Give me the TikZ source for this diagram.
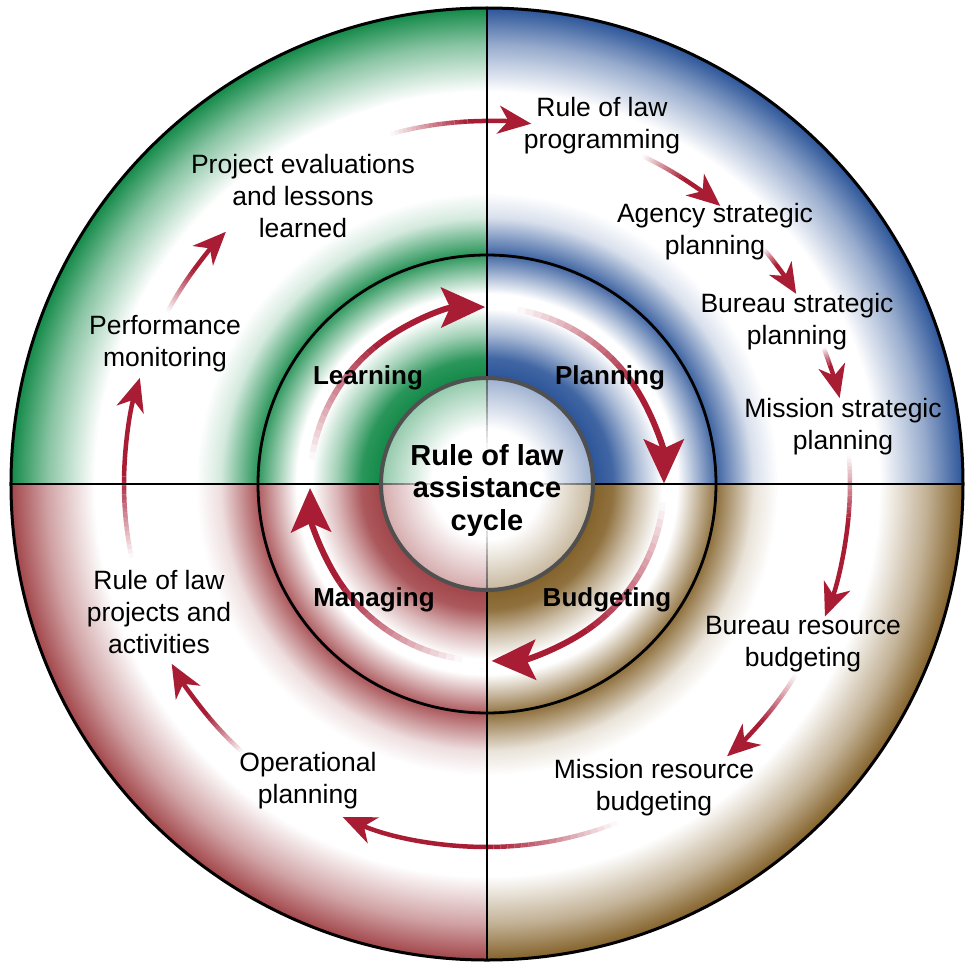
\documentclass[tikz,border=0pt]{standalone}
\usepackage{fontspec}
\setmainfont{Liberation Sans}
\usetikzlibrary{arrows.meta}
\definecolor{cgreen}{HTML}{138A48}
\definecolor{cblue}{HTML}{2C5599}
\definecolor{cred}{HTML}{A2464A}
\definecolor{ctan}{HTML}{84622A}
\definecolor{arrowred}{HTML}{A81C34}
\definecolor{discgrey}{HTML}{505050}

\newcommand{\declring}[2]{%
  \pgfdeclareradialshading{#1}{\pgfpoint{0bp}{0bp}}{%
    color(0bp)=(white); color(2.9bp)=(white); color(5.51bp)=(#2!45);
    color(5.6bp)=(#2); color(6.6bp)=(#2!90); color(7.9bp)=(#2!40);
    color(9.2bp)=(white); color(10bp)=(white); color(12.03bp)=(#2!88);
    color(12.13bp)=(#2!88); color(14.0bp)=(#2!18); color(15.3bp)=(white);
    color(20.6bp)=(white); color(23.1bp)=(#2!50); color(25bp)=(#2);
    color(50bp)=(#2)}}
\declring{ringgreen}{cgreen}
\declring{ringblue}{cblue}
\declring{ringred}{cred}
\declring{ringtan}{ctan}

% #1 name, #2 radius, #3 start angle, #4 end angle, #5 fade fraction, #6 width, #7 tip
\newcommand{\fadearrow}[7]{%
  \pgfmathsetmacro{\fmid}{#3+(#4-#3)*#5}%
  \coordinate (#1-s) at (#3:#2);
  \coordinate (#1-m) at (\fmid:#2);
  \foreach \k in {0,...,17}{%
    \pgfmathsetmacro{\aa}{#3+(\fmid-#3)*\k/18}%
    \pgfmathsetmacro{\ab}{#3+(\fmid-#3)*(\k+1)/18}%
    \pgfmathsetmacro{\op}{(\k+0.5)/18}%
    \draw[arrowred, line width=#6, opacity=\op] (\aa:#2) arc[start angle=\aa, end angle=\ab, radius=#2];
  }
  \draw[arrowred, line width=#6, -{#7}] (#1-m) arc[start angle=\fmid, end angle=#4, radius=#2];
}

\tikzset{
  lbl/.style={align=center, text=black, inner sep=0pt, font=\fontsize{26.5}{32}\selectfont},
  blbl/.style={align=center, text=black, inner sep=0pt, font=\fontsize{26}{32}\selectfont\bfseries},
  clbl/.style={align=center, text=black, inner sep=0pt, font=\fontsize{29}{32.5}\selectfont\bfseries},
}

\begin{document}
\begin{tikzpicture}[x=1pt, y=1pt]
\useasboundingbox (-487,-478) rectangle (485,484);
\fill[white] (-487,-478) rectangle (485,484);

% quadrant shadings
\begin{scope}
  \clip (0,0) rectangle (-480,480);
  \shade[shading=ringgreen] (0,0) circle (476);
\end{scope}
\begin{scope}
  \clip (0,0) rectangle (480,480);
  \shade[shading=ringblue] (0,0) circle (476);
\end{scope}
\begin{scope}
  \clip (0,0) rectangle (-480,-480);
  \shade[shading=ringred] (0,0) circle (476);
\end{scope}
\begin{scope}
  \clip (0,0) rectangle (480,-480);
  \shade[shading=ringtan] (0,0) circle (476);
\end{scope}

% faint cross inside the central disc
\foreach \ang in {0,90,180,270}{
  \foreach \k in {0,...,11}{
    \pgfmathsetmacro{\ra}{35+\k*6}
    \pgfmathsetmacro{\rb}{\ra+6}
    \pgfmathsetmacro{\op}{(\k+1)/12*0.8}
    \draw[discgrey, line width=2pt, opacity=\op] (\ang:\ra) -- (\ang:\rb);
  }
}

% outer arrows (radius 363)
\fadearrow{o1}{363}{105.4}{83}{0.55}{4.5pt}{Stealth[length=33pt, width=28pt, inset=10pt]}
\fadearrow{o2}{363}{64.6}{50}{0.5}{4.5pt}{Stealth[length=33pt, width=28pt, inset=10pt]}
\fadearrow{o3}{363}{40.3}{31.6}{0.35}{4.5pt}{Stealth[length=30pt, width=26pt, inset=9pt]}
\fadearrow{o4}{363}{22}{13.7}{0.35}{4.5pt}{Stealth[length=33pt, width=27pt, inset=10pt]}
\fadearrow{o5}{363}{4.5}{-21.4}{0.4}{4.5pt}{Stealth[length=33pt, width=28pt, inset=10pt]}
\fadearrow{o6}{363}{-31.7}{-48.6}{0.55}{4.5pt}{Stealth[length=33pt, width=28pt, inset=10pt]}
\fadearrow{o7}{363}{-69}{-113.4}{0.45}{4.5pt}{Stealth[length=33pt, width=28pt, inset=10pt]}
\fadearrow{o8}{363}{-132.3}{-150.3}{0.45}{4.5pt}{Stealth[length=33pt, width=28pt, inset=10pt]}
\fadearrow{o9}{363}{-168.3}{-197}{0.45}{4.5pt}{Stealth[length=33pt, width=28pt, inset=10pt]}
\fadearrow{o10}{363}{151.7}{136}{0.5}{4.5pt}{Stealth[length=33pt, width=28pt, inset=10pt]}

% inner arrows (radius 177)
\fadearrow{i1}{177}{172}{90.6}{0.55}{6pt}{Stealth[length=44pt, width=40pt, inset=9pt]}
\fadearrow{i2}{177}{80}{0.2}{0.6}{6pt}{Stealth[length=44pt, width=40pt, inset=9pt]}
\fadearrow{i3}{177}{-6}{-88.5}{0.6}{6pt}{Stealth[length=44pt, width=40pt, inset=9pt]}
\fadearrow{i4}{177}{-98}{-178.7}{0.6}{6pt}{Stealth[length=44pt, width=40pt, inset=9pt]}

% dividing lines
\coordinate (c) at (0,0);
\foreach \ang in {0,90,180,270}{
  \draw[black, line width=2.8pt] (\ang:106) -- (\ang:476);
}
% circles
\draw[black, line width=2.8pt] (c) circle (229);
\draw[black, line width=3pt] (c) circle (476);
\draw[discgrey, line width=4pt] (c) circle (106);

% labels
\node[clbl] (centre) at (0,-6) {Rule of law\\assistance\\cycle};
\node[blbl] (learning) at (-119,106) {Learning};
\node[blbl] (planning) at (123,106) {Planning};
\node[blbl] (managing) at (-113,-116) {Managing};
\node[blbl] (budgeting) at (120,-116) {Budgeting};

\node[lbl] (eval) at (-184,288) {Project evaluations\\and lessons\\learned};
\node[lbl] (perf) at (-322,140) {Performance\\monitoring};
\node[lbl] (prog) at (115,358) {Rule of law\\programming};
\node[lbl] (agency) at (228,252) {Agency strategic\\planning};
\node[lbl] (bureaus) at (310,162) {Bureau strategic\\planning};
\node[lbl] (missions) at (356,57) {Mission strategic\\planning};
\node[lbl] (bureaur) at (316,-160) {Bureau resource\\budgeting};
\node[lbl] (missionr) at (167,-304) {Mission resource\\budgeting};
\node[lbl] (oper) at (-179,-297) {Operational\\planning};
\node[lbl] (projects) at (-328,-128) {Rule of law\\projects and\\activities};
\end{tikzpicture}
\end{document}
